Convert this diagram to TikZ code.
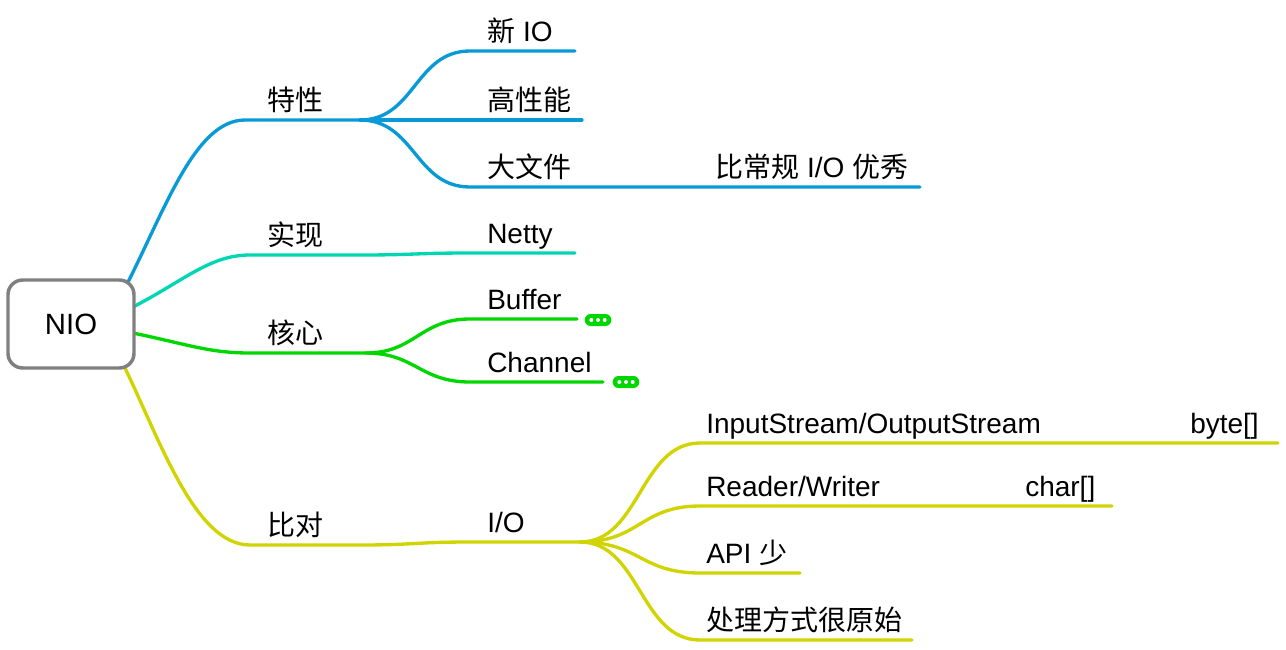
\documentclass[tikz,border=0pt]{standalone}
\usepackage{fontspec}
\setmainfont{Liberation Sans}
\newfontfamily\cjk{Noto Sans CJK SC}
\usetikzlibrary{positioning}
\usetikzlibrary{backgrounds}

\definecolor{boxgray}{RGB}{128,128,128}
\definecolor{blueline}{RGB}{8,154,214}
\definecolor{tealline}{RGB}{0,214,178}
\definecolor{greenline}{RGB}{0,214,0}
\definecolor{yellowline}{RGB}{208,212,0}

\tikzset{
  topic/.style={anchor=base west, inner sep=0pt, font=\fontsize{21}{25}\selectfont},
  branch/.style={line width=2.5pt, line cap=round},
  morebox/.style={fill=greenline, rounded corners=4.5pt, minimum width=20pt,
    minimum height=9pt, inner sep=0pt,
    path picture={\foreach \dx in {-5,0,5}
      \fill[white] ([xshift=\dx pt]path picture bounding box.center) circle (1.5pt);}}
}

\begin{document}
\begin{tikzpicture}[x=0.75pt, y=-0.75pt]
            \useasboundingbox (0,0) rectangle (1286,650);

            \node[draw=boxgray, fill=white, line width=2.6pt, rounded corners=11pt,
                  minimum width=94.5pt, minimum height=66pt,
                  font=\fontsize{22}{26}\selectfont] (nio) at (71,324) {NIO};

            \coordinate (a0) at (126,286);
            \coordinate (b0) at (133,307);
            \coordinate (c0) at (133,333);
            \coordinate (d0) at (124,366);

            \coordinate (tx) at (360,120);
            \coordinate (sx) at (360,255);
            \coordinate (hx) at (366,353);
            \coordinate (bd) at (360,545);
            \coordinate (io) at (580,542);

            \coordinate (newio) at (575,51);
            \coordinate (gxn) at (582,120);
            \coordinate (dwj) at (470,187);
            \coordinate (dwj-end) at (920,187);
            \coordinate (netty) at (575,253);
            \coordinate (buffer) at (577,319);
            \coordinate (channel) at (603,382);
            \coordinate (stream) at (1278,443);
            \coordinate (reader) at (1112,506);
            \coordinate (api) at (800,573);
            \coordinate (raw) at (912,640);

            \begin{scope}[on background layer]
            % 特性
            \draw[branch, blueline] (a0) .. controls (165,210) and (195,120) .. (245,120) -- (tx);
            \draw[branch, blueline] (tx) .. controls (415,120) and (415,51) .. (470,51) -- (newio);
            \draw[branch, blueline] (tx) -- (gxn);
            \draw[branch, blueline] (tx) .. controls (415,120) and (415,187) .. (dwj) -- (dwj-end);
            % 实现
            \draw[branch, tealline] (b0) .. controls (185,280) and (210,255) .. (250,255) -- (sx)
                  .. controls (415,255) and (415,253) .. (470,253) -- (netty);
            % 核心
            \draw[branch, greenline] (c0) .. controls (190,345) and (210,353) .. (250,353) -- (hx);
            \draw[branch, greenline] (hx) .. controls (415,353) and (420,319) .. (470,319) -- (buffer);
            \draw[branch, greenline] (hx) .. controls (415,353) and (420,382) .. (470,382) -- (channel);
            % 比对
            \draw[branch, yellowline] (d0) .. controls (160,440) and (195,545) .. (250,545) -- (bd)
                  .. controls (415,545) and (415,542) .. (470,542) -- (io);
            \draw[branch, yellowline] (io) .. controls (640,542) and (640,443) .. (700,443) -- (stream);
            \draw[branch, yellowline] (io) .. controls (640,542) and (640,506) .. (700,506) -- (reader);
            \draw[branch, yellowline] (io) .. controls (640,542) and (640,573) .. (700,573) -- (api);
            \draw[branch, yellowline] (io) .. controls (640,542) and (640,640) .. (700,640) -- (raw);
            \end{scope}

            \node[morebox] (buffer-more) at (598,320) {};
            \node[morebox] (channel-more) at (626,382) {};

            \node[topic] (t-tx) at (267,110) {\cjk 特性};
            \node[topic] (t-newio) at (487,41) {{\cjk 新} IO};
            \node[topic] (t-gxn) at (487,110) {\cjk 高性能};
            \node[topic] (t-dwj) at (487,177) {\cjk 大文件};
            \node[topic] (t-better) at (715,177) {{\cjk 比常规} I/O {\cjk 优秀}};
            \node[topic] (t-sx) at (267,245) {\cjk 实现};
            \node[topic] (t-netty) at (487,243) {Netty};
            \node[topic] (t-hx) at (267,343) {\cjk 核心};
            \node[topic] (t-buffer) at (487,309) {Buffer};
            \node[topic] (t-channel) at (487,372) {Channel};
            \node[topic] (t-bd) at (267,535) {\cjk 比对};
            \node[topic] (t-io) at (487,532) {I/O};
            \node[topic] (t-stream) at (706,433) {InputStream/OutputStream};
            \node[topic] (t-byte) at (1190,433) {byte[]};
            \node[topic] (t-reader) at (706,496) {Reader/Writer};
            \node[topic] (t-char) at (1025,496) {char[]};
            \node[topic] (t-api) at (706,563) {API {\cjk 少}};
            \node[topic] (t-raw) at (706,630) {\cjk 处理方式很原始};
        \end{tikzpicture}
\end{document}
